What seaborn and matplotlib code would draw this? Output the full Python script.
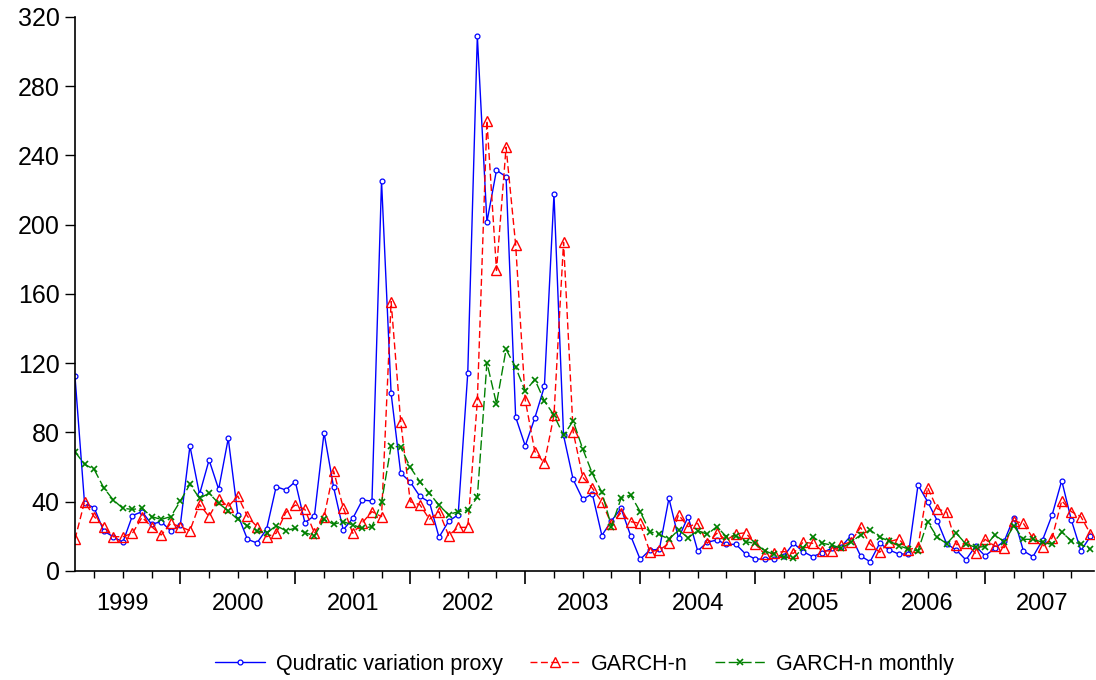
import numpy as np
import pandas as pd
import seaborn as sns
import matplotlib.pyplot as plt

# monthly observations, Feb 1999 - Dec 2007
qv_proxy = [112.6, 39, 36.6, 23.1, 19.8, 16.6, 32, 34.3, 27, 28.5, 23.1, 26.6,
            72.2, 44.3, 64.1, 47.2, 76.6, 32.4, 18.3, 16.2, 24.1, 48.7, 46.8, 51.6,
            27.9, 32, 79.9, 48.3, 23.7, 30.4, 41, 40.4, 225.3, 102.6, 56.6, 51.4,
            43.1, 39.8, 19.5, 28.7, 32.5, 114.3, 309, 201.6, 231.5, 227.7, 88.9, 72.3,
            88.4, 106.6, 217.6, 78.3, 52.9, 41.4, 44.6, 20.5, 29, 36.2, 20.4, 6.7,
            12.1, 12.5, 42, 18.9, 31.4, 11.6, 16.6, 17.9, 15.4, 15.4, 9.8, 6.9,
            6.9, 6.9, 8.7, 16, 11.2, 8.3, 10.6, 13.1, 14.1, 20.4, 8.7, 5.4,
            16, 12.1, 9.8, 9.8, 49.7, 40, 29.1, 15.6, 12.1, 6.4, 14.4, 8.7,
            13.1, 17.3, 30.8, 11.6, 8.3, 17.9, 32.4, 52.2, 29.5, 11.7, 20]

garch_n = [18.3, 40, 31.4, 25.6, 19.8, 19.8, 21.8, 31, 25.6, 20.8, 27.5, 25.6,
           23.3, 38.5, 31.4, 41.6, 37.2, 43.3, 31.6, 25.6, 19.8, 21.8, 33.7, 38.1,
           35.6, 21.8, 31.4, 57.8, 36.6, 21.8, 27.9, 34.3, 31.4, 155.6, 86.3, 40,
           38.3, 29.9, 34.3, 20.5, 25.2, 25.2, 98.2, 260.2, 173.6, 244.8, 188.4, 98.8,
           69, 62.4, 90, 189.9, 80.5, 54.2, 47.9, 39.9, 27.1, 33.7, 28.5, 27.5,
           11.2, 12.1, 16, 32.4, 25.6, 27.5, 16, 21.8, 17.9, 21.4, 22.1, 15.6,
           9.7, 10.5, 11.2, 10.2, 16.6, 16, 11.7, 11.5, 15, 16.9, 25.2, 15.6,
           10.8, 16.9, 18.5, 12.1, 14.1, 48.2, 36, 34, 15.2, 16, 10.2, 18.3,
           14.4, 13.5, 28.9, 27.5, 18.9, 14.1, 19.2, 40.6, 34.3, 31.4, 21.4]

garch_n_monthly = [68.9, 61.6, 58.7, 48.1, 41, 36.2, 35.6, 36.2, 31.4, 29.8, 31.4, 40.4,
                   50.1, 42, 44.9, 39.1, 34.7, 29.8, 26.2, 23.3, 21.8, 26.2, 23.3, 24.7,
                   22.1, 20.4, 29.8, 27, 28.5, 26.6, 24.7, 25.6, 39.7, 72.2, 71.5, 59.9,
                   51.6, 44.9, 38, 32.5, 34.3, 35.2, 42.5, 120.3, 96.6, 128, 117.6, 103.9,
                   110.6, 98.2, 90, 78.3, 86.7, 70.5, 56.4, 45.4, 25.7, 42, 43.9, 34.3,
                   22.7, 21.2, 18.3, 23.7, 19.2, 23.3, 21.2, 25.6, 19.8, 20.4, 16.9, 16,
                   11.6, 9.6, 8.3, 7.3, 13.5, 19.8, 16, 15, 13.1, 16.6, 20.8, 23.7,
                   19.5, 17.3, 14.6, 12.7, 11.6, 28.5, 19.5, 15.8, 21.8, 15.6, 13.7, 14.1,
                   20.8, 16.9, 26, 18.3, 18.3, 16.6, 15.4, 22.4, 17.5, 15.4, 12.5]

years = list(range(1999, 2008))
yticks = [0, 40, 80, 120, 160, 200, 240, 280, 320]

# time as fractional year (Feb 1999 = 1999 + 1/12)
t = 1999 + (np.arange(len(qv_proxy)) + 1) / 12
df = pd.DataFrame({'t': t, 'qv': qv_proxy, 'garch': garch_n, 'monthly': garch_n_monthly})

sns.set_style('ticks')
plt.rcParams['font.family'] = ['Liberation Sans', 'DejaVu Sans']
plt.rcParams['text.color'] = 'black'
plt.rcParams['xtick.color'] = 'black'
plt.rcParams['ytick.color'] = 'black'
plt.rcParams['axes.edgecolor'] = 'black'

fig = plt.figure(figsize=(10.96, 6.8), dpi=100)
ax = fig.add_axes([0.0684, 0.1603, 0.9297, 0.8147])

sns.lineplot(data=df, x='t', y='qv', ax=ax, color='#0000ff', lw=1.0,
             marker='o', ms=3.5, mfc='white', mec='#0000ff', mew=0.9,
             label='Qudratic variation proxy')
sns.lineplot(data=df, x='t', y='garch', ax=ax, color='#ff0000', lw=1.0,
             linestyle=(0, (5, 2.5)), marker='^', ms=7, mfc='none', mec='#ff0000', mew=1.0,
             label='GARCH-n')
sns.lineplot(data=df, x='t', y='monthly', ax=ax, color='#008000', lw=1.0,
             linestyle=(0, (7, 2.5)), marker='x', ms=4, mec='#008000', mew=1.2,
             label='GARCH-n monthly')

# quarter ticks short, year ticks long, labels centred in each year
ax.set_xticks(years[1:], labels=[''] * len(years[1:]))
ax.set_xticks([y + q / 4 for y in years for q in (1, 2, 3)], minor=True)
ax.tick_params(axis='x', which='major', length=9, width=1.2)
ax.tick_params(axis='x', which='minor', length=5, width=1)
ax.set_xlim(t[0], t[-1] + 0.03)
ax.set_ylim(0, 320)
ax.set_yticks(yticks)
ax.tick_params(axis='y', labelsize=18, length=7, width=1, pad=4)
for y in years:
    ax.text(y + 0.5, -0.04, str(y), transform=ax.get_xaxis_transform(),
            ha='center', va='top', fontsize=17)

ax.set_xlabel('')
ax.set_ylabel('')
sns.despine(ax=ax)
ax.spines['left'].set_linewidth(1.2)
ax.spines['bottom'].set_linewidth(1.2)

ax.legend(loc='center', bbox_to_anchor=(0.5, -0.168), ncol=3, frameon=False,
          fontsize=15.5, handlelength=2.3, handletextpad=0.5, columnspacing=1.3)

fig.savefig('out.png', dpi=100)
